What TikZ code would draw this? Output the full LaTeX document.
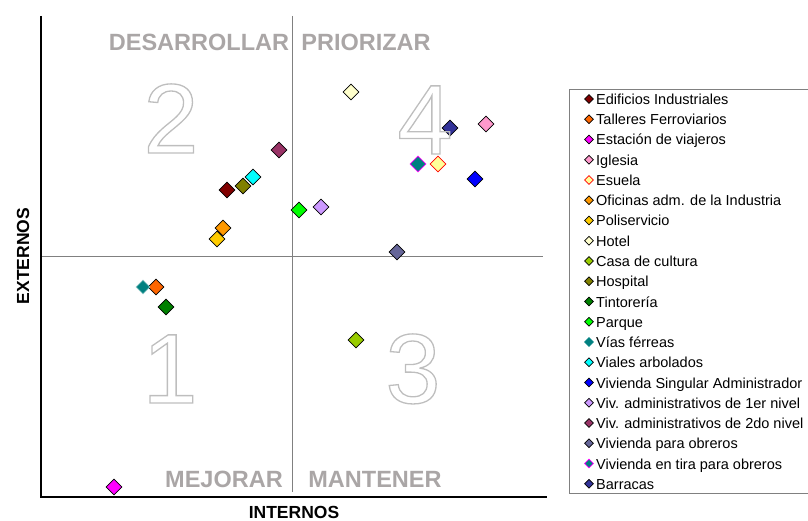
\documentclass[tikz,border=0pt]{standalone}
\usepackage{fontspec}
\setmainfont{Liberation Sans}
\usetikzlibrary{shapes.geometric}

\definecolor{cEdif}{HTML}{800000}
\definecolor{cTall}{HTML}{FF6600}
\definecolor{cEsta}{HTML}{FF00FF}
\definecolor{cIgle}{HTML}{FF99CC}
\definecolor{cEsue}{HTML}{FFFF99}
\definecolor{cOfic}{HTML}{FF9900}
\definecolor{cPoli}{HTML}{FFCC00}
\definecolor{cHote}{HTML}{FFFFCC}
\definecolor{cCasa}{HTML}{99CC00}
\definecolor{cHosp}{HTML}{808000}
\definecolor{cTint}{HTML}{008000}
\definecolor{cParq}{HTML}{00FF00}
\definecolor{cVias}{HTML}{008080}
\definecolor{cVial}{HTML}{00FFFF}
\definecolor{cSing}{HTML}{0000FF}
\definecolor{cViva}{HTML}{CC99FF}
\definecolor{cVivb}{HTML}{993366}
\definecolor{cObre}{HTML}{666699}
\definecolor{cTira}{HTML}{008080}
\definecolor{cBarr}{HTML}{333399}
\definecolor{quadgray}{RGB}{170,166,166}
\definecolor{digitgray}{RGB}{190,190,190}

\tikzset{
  pto/.style={diamond, aspect=1, inner sep=0pt, minimum size=16pt, line width=0.8pt},
  lpto/.style={pto, minimum size=9pt, line width=0.6pt},
  quad/.style={text=quadgray, font=\bfseries\fontsize{23.5}{25}\selectfont},
  axlabel/.style={font=\bfseries\fontsize{17.5}{19}\selectfont},
  leyenda/.style={anchor=base west, inner sep=0pt, font=\fontsize{14.5}{17}\selectfont},
  big/.style={anchor=base, inner sep=0pt, text=digitgray, font=\fontsize{99}{99}\selectfont}
}

% cifra solo con contorno
\newcommand{\hueco}[1]{\special{pdf:literal direct 1 Tr 1.3 w}#1\special{pdf:literal direct 0 Tr}}

\begin{document}
\begin{tikzpicture}[x=1pt, y=-1pt]

  \useasboundingbox (0,0) rectangle (808,521);

  % ejes y cuadrantes
  \draw[gray, line width=0.8pt] (292,16) -- (292,492);
  \draw[gray, line width=0.8pt] (41,256) -- (543,256);
  \draw[line width=1.6pt] (41,16) -- (41,497) -- (547,497);

  \node[axlabel, rotate=90] (ext) at (23,256) {EXTERNOS};
  \node[axlabel] (int) at (294,512) {INTERNOS};

  \node[quad] (desa) at (199,42) {DESARROLLAR};
  \node[quad] (prio) at (366,42) {PRIORIZAR};
  \node[quad] (mejo) at (224,479) {MEJORAR};
  \node[quad] (mant) at (375,479) {MANTENER};

  % puntos
  \foreach \n/\x/\y/\c/\b in {
      edif/227/190/cEdif/black, tall/156/287/cTall/black, esta/114/487/cEsta/black,
      igle/486/124/cIgle/black, esue/438/164/cEsue/red, ofic/223/228/cOfic/black,
      poli/217/239/cPoli/black, hote/351/92/cHote/black, casa/356/340/cCasa/black,
      hosp/243/186/cHosp/black, tint/166/307/cTint/black, parq/299/210/cParq/black,
      vial/253/177/cVial/black, sing/475/179/cSing/black, viva/321/207/cViva/black,
      vivb/279/150/cVivb/black, obre/397/252/cObre/black, tira/418/164/cTira/cEsta,
      barr/450/128/cBarr/black}{
    \node[pto, fill=\c, draw=\b] (\n) at (\x,\y) {};
  }
  \node[pto, minimum size=14pt, fill=cVias, draw=cVias!45!white] (vias) at (143,287) {};

  % numeros
  \node[big] (n2) at (171,153) {\hueco{2}};
  \node[big] (n4) at (425,154) {\hueco{4}};
  \node[big] (n1) at (170,403) {\hueco{1}};
  \node[big] (n3) at (413,403) {\hueco{3}};

  % leyenda
  \draw[gray, line width=0.8pt] (569,89) rectangle (815,493);
  \foreach \t/\c/\b [count=\i from 0] in {
      Edificios Industriales/cEdif/black, Talleres Ferroviarios/cTall/black,
      Estación de viajeros/cEsta/black, Iglesia/cIgle/black, Esuela/cEsue/red,
      Oficinas adm. de la Industria/cOfic/black, Poliservicio/cPoli/black,
      Hotel/cHote/black, Casa de cultura/cCasa/black, Hospital/cHosp/black,
      Tintorería/cTint/black, Parque/cParq/black, Vías férreas/cVias/cVias,
      Viales arbolados/cVial/black, Vivienda Singular Administrador/cSing/black,
      Viv. administrativos de 1er nivel/cViva/black,
      Viv. administrativos de 2do nivel/cVivb/black,
      Vivienda para obreros/cObre/black, Vivienda en tira para obreros/cTira/cEsta,
      Barracas/cBarr/black}{
    \node[lpto, fill=\c, draw=\b] (l\i) at (589,99+20.25*\i) {};
    \node[leyenda] (t\i) at (596,104.5+20.25*\i) {\t};
  }
  \node[lpto, minimum size=6pt, fill=cVias, draw=cVias] at (l12) {};

\end{tikzpicture}
\end{document}
